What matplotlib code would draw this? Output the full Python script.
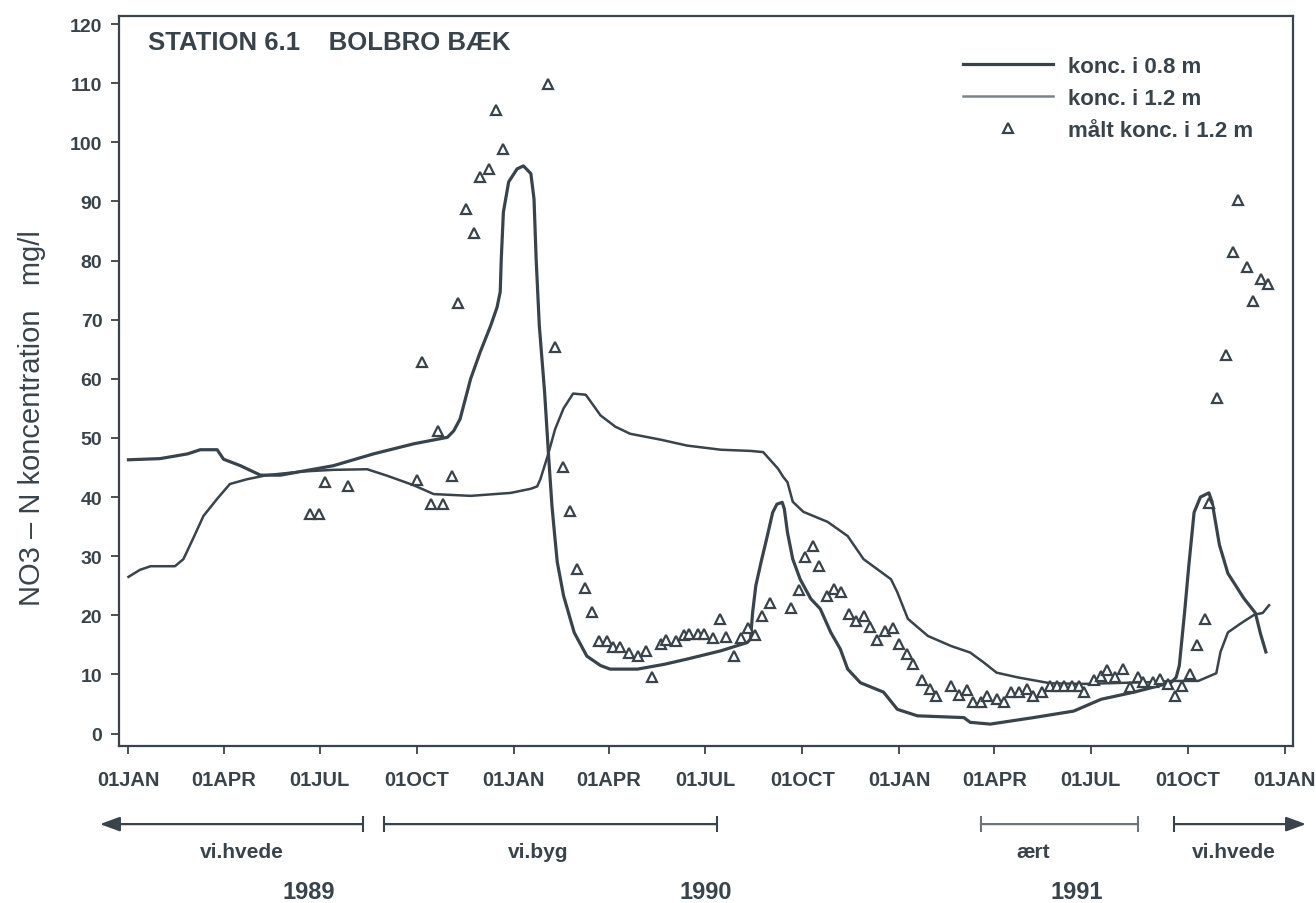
import numpy as np
import matplotlib
matplotlib.use('Agg')
import matplotlib.pyplot as plt
import matplotlib.dates as mdates
from matplotlib.ticker import FuncFormatter, MultipleLocator

plt.rcParams['font.family'] = ['Liberation Sans', 'DejaVu Sans']

ink = '#38434b'
start = np.datetime64('1989-01-01')

# simulated NO3-N at 0.8 m: days after 1 Jan 1989, mg/l
days_08 = [0, 30, 56, 68, 84, 90, 106, 125, 144, 169, 194, 232, 270, 302, 308,
           314, 324, 333, 343, 349, 352, 353, 355, 360, 368, 374, 381, 384,
           386, 389, 394, 398, 401, 403, 406, 412, 422, 434, 447, 456, 482,
           507, 529, 561, 586, 589, 591, 594, 599, 605, 610, 614, 619, 621,
           624, 629, 636, 646, 655, 665, 674, 681, 693, 715, 728, 747, 791,
           797, 816, 857, 895, 921, 952, 987, 992, 995, 1000, 1004, 1009,
           1015, 1023, 1026, 1033, 1041, 1056, 1067, 1072, 1077]
conc_08 = [46.3, 46.5, 47.3, 48.0, 48.0, 46.4, 45.3, 43.7, 43.7, 44.5, 45.3,
           47.3, 49.0, 50.1, 51.2, 53.2, 60.0, 64.5, 69.0, 72.1, 74.7, 80.3,
           88.2, 93.3, 95.5, 96.0, 94.7, 90.4, 80.3, 69.0, 57.8, 46.4, 38.5,
           34.6, 29.0, 23.3, 17.1, 13.1, 11.5, 10.9, 10.9, 11.7, 12.6, 14.0,
           15.4, 16.0, 20.5, 25.0, 29.0, 33.5, 37.4, 38.8, 39.1, 38.0, 34.0,
           29.5, 26.1, 22.8, 21.1, 17.1, 14.3, 10.9, 8.6, 7.0, 4.1, 3.0, 2.7,
           1.9, 1.6, 2.7, 3.8, 5.8, 7.0, 8.6, 9.5, 11.5, 20.5, 28.4, 37.4,
           40.0, 40.7, 39.2, 31.9, 27.1, 22.9, 20.4, 16.8, 13.8]

# simulated NO3-N at 1.2 m
days_12 = [0, 11, 21, 44, 52, 61, 71, 84, 96, 112, 131, 163, 194, 226, 245,
           270, 289, 324, 362, 381, 387, 390, 397, 404, 412, 421, 433, 447,
           461, 475, 504, 529, 561, 589, 601, 615, 620, 624, 629, 639, 662,
           681, 696, 709, 722, 728, 738, 757, 779, 797, 810, 822, 842, 873,
           905, 968, 990, 1013, 1030, 1034, 1041, 1053, 1066, 1074, 1080]
conc_12 = [26.5, 27.7, 28.3, 28.3, 29.5, 32.9, 36.8, 39.7, 42.2, 43.0, 43.7,
           44.3, 44.6, 44.7, 43.6, 42.0, 40.5, 40.2, 40.7, 41.4, 41.8, 43.0,
           47.0, 51.5, 55.0, 57.5, 57.3, 53.8, 51.9, 50.7, 49.7, 48.7, 48.0,
           47.8, 47.6, 44.8, 43.4, 42.5, 39.2, 37.5, 35.8, 33.4, 29.5, 27.8,
           26.1, 23.9, 19.4, 16.5, 14.8, 13.7, 12.0, 10.3, 9.5, 8.5, 8.4, 8.7,
           8.9, 8.9, 10.2, 13.8, 17.1, 18.6, 20.1, 20.4, 21.7]

# measured NO3-N at 1.2 m
days_obs = [172, 180, 186, 208, 273, 278, 286, 293, 298, 306, 312, 320, 327,
            333, 341, 348, 355, 397, 404, 411, 418, 425, 432, 439, 446, 453,
            459, 465, 474, 482, 490, 496, 504, 509, 518, 526, 531, 539, 545,
            553, 560, 566, 573, 580, 587, 593, 600, 607, 627, 635, 641, 648,
            654, 661, 668, 675, 682, 689, 696, 702, 709, 716, 724, 730, 737,
            743, 751, 759, 765, 779, 786, 794, 800, 807, 813, 822, 829, 836,
            843, 851, 856, 865, 873, 879, 886, 893, 900, 905, 914, 921, 927,
            934, 942, 948, 956, 961, 970, 977, 984, 991, 998, 1005, 1012,
            1019, 1023, 1031, 1039, 1046, 1051, 1059, 1065, 1072, 1079]
conc_obs = [37.2, 37.2, 42.5, 41.8, 42.9, 62.8, 38.8, 51.2, 38.8, 43.5, 72.8,
            88.7, 84.6, 94.2, 95.4, 105.4, 98.8, 109.8, 65.3, 45.0, 37.7, 27.9,
            24.7, 20.5, 15.6, 15.6, 14.7, 14.7, 13.7, 13.2, 14.0, 9.5, 15.1,
            15.9, 15.7, 16.6, 16.8, 16.8, 16.8, 16.2, 19.3, 16.4, 13.2, 16.2,
            17.8, 16.6, 19.8, 22.0, 21.2, 24.2, 29.8, 31.8, 28.3, 23.2, 24.4,
            24.0, 20.3, 19.1, 19.8, 18.1, 15.9, 17.4, 17.8, 15.2, 13.5, 11.7,
            9.1, 7.6, 6.3, 8.1, 6.6, 7.3, 5.4, 5.4, 6.4, 5.9, 5.4, 7.1, 7.1,
            7.6, 6.4, 7.1, 8.0, 8.0, 8.0, 8.0, 8.0, 7.1, 9.1, 9.8, 10.7, 9.6,
            11.0, 7.8, 9.6, 8.8, 8.8, 9.3, 8.3, 6.3, 8.1, 10.1, 15.0, 19.3,
            39.0, 56.7, 64.1, 81.4, 90.2, 78.9, 73.1, 76.8, 76.1]

# crop periods below the time axis
crop_names = ['vi.hvede', 'vi.byg', 'ært', 'vi.hvede']
crop_start = ['1988-12-05', '1989-08-31', '1991-03-19', '1991-09-18']
crop_end = ['1989-08-11', '1990-07-12', '1991-08-15', '1992-01-21']
crop_label_at = ['1989-04-18', '1990-01-24', '1991-05-08', '1991-11-14']
year_names = ['1989', '1990', '1991']
year_label_at = ['1989-06-21', '1990-07-02', '1991-06-18']


def to_dates(days):
    return start + np.asarray(days, dtype=int).astype('timedelta64[D]')


fig = plt.figure(figsize=(13.16, 9.04), dpi=100)
ax = fig.add_axes([0.0904, 0.1737, 0.8924, 0.8078])

ax.plot(to_dates(days_08), conc_08, color=ink, lw=2.3,
        label='konc. i 0.8 m', solid_joinstyle='round')
ax.plot(to_dates(days_12), conc_12, color=ink, lw=1.8,
        label='konc. i 1.2 m', solid_joinstyle='round')
ax.plot(to_dates(days_obs), conc_obs, ls='none', marker='^', ms=7.5,
        mfc='white', mec=ink, mew=1.6, label='målt konc. i 1.2 m')

ax.set_xlim(np.datetime64('1988-12-23'), np.datetime64('1992-01-09'))
ax.set_ylim(-2.1, 121.4)
ax.yaxis.set_major_locator(MultipleLocator(10))
ax.xaxis.set_major_locator(mdates.MonthLocator(bymonth=[1, 4, 7, 10]))
ax.xaxis.set_major_formatter(FuncFormatter(
    lambda v, pos: mdates.num2date(v).strftime('%d%b').upper()))

for sp in ax.spines.values():
    sp.set_linewidth(1.6)
    sp.set_color(ink)
ax.tick_params(axis='both', direction='out', length=6, width=1.3,
               colors=ink)
ax.tick_params(axis='x', pad=11, labelsize=14.5)
ax.tick_params(axis='y', pad=6, labelsize=14)
for lab in ax.get_xticklabels() + ax.get_yticklabels():
    lab.set_fontweight('bold')

fig.text(0.024, 0.538, 'NO3 – N koncentration   mg/l', rotation=90,
         ha='center', va='center', fontsize=21, color=ink)

ax.text(0.0244, 0.964, 'STATION 6.1    BOLBRO BÆK', transform=ax.transAxes,
        ha='left', va='center', fontsize=18.5, fontweight='bold', color=ink)

leg = ax.legend(loc='upper left', bbox_to_anchor=(0.7187, 0.945),
                frameon=False, borderpad=0, borderaxespad=0,
                handlelength=4.05, handletextpad=0.68, labelspacing=0.5,
                prop={'size': 16, 'weight': 'bold'})
for t in leg.get_texts():
    t.set_color(ink)
leg.legend_handles[1].set_color('#7d8489')

# crop periods and years under the axis
trans = ax.get_xaxis_transform()
y_bar, y_crop, y_year = -0.107, -0.144, -0.199
for i, name in enumerate(crop_names):
    x0 = np.datetime64(crop_start[i])
    x1 = np.datetime64(crop_end[i])
    col = '#6d7479' if name == 'ært' else ink
    # annotate draws from xytext (A end) to xy (B end)
    if i == 0:
        style = '-|>,head_length=0.6,head_width=0.22'
    elif i == len(crop_names) - 1:
        style = '<|-,head_length=0.6,head_width=0.22'
    else:
        style = '-'
    ax.annotate('', xy=(x0, y_bar), xytext=(x1, y_bar), xycoords=trans,
                textcoords=trans, annotation_clip=False,
                arrowprops=dict(arrowstyle=style, mutation_scale=20, lw=1.6,
                                color=col, shrinkA=0, shrinkB=0))
    ends = []
    if i != 0:
        ends.append(x0)
    if i != len(crop_names) - 1:
        ends.append(x1)
    for e in ends:
        ax.plot([e], [y_bar], marker='|', ms=11, mew=1.5, color=col,
                transform=trans, clip_on=False)
    ax.text(np.datetime64(crop_label_at[i]), y_crop, name, transform=trans,
            ha='center', va='center', fontsize=15, fontweight='bold',
            color=ink)

for name, at in zip(year_names, year_label_at):
    ax.text(np.datetime64(at), y_year, name, transform=trans, ha='center',
            va='center', fontsize=17, fontweight='bold', color=ink)

fig.savefig('out.png', dpi=100, facecolor='white')
